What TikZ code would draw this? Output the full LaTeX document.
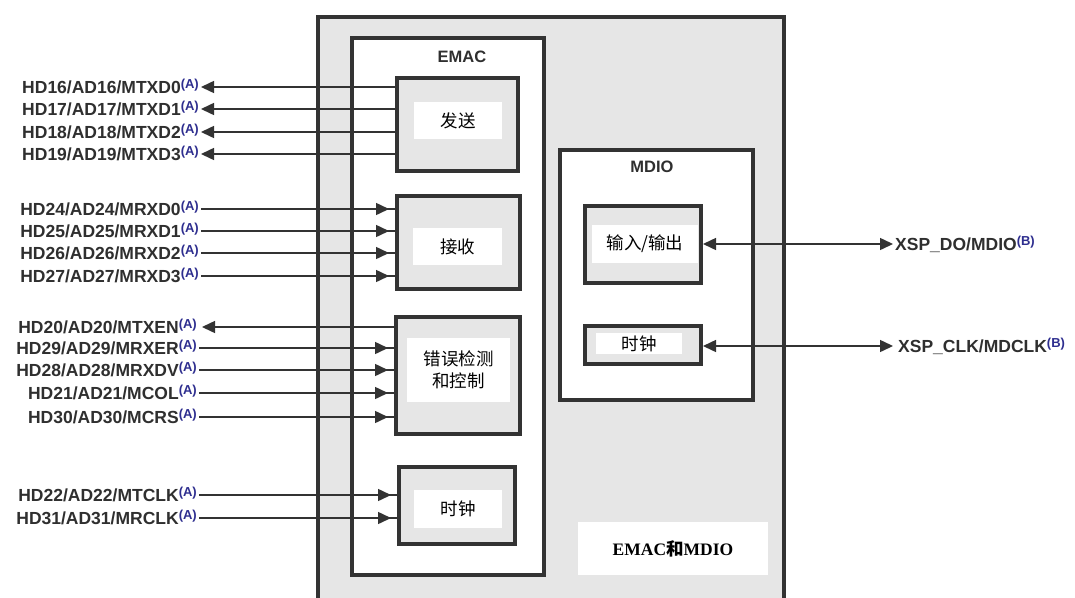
\documentclass[tikz,border=0pt]{standalone}
\usepackage{fontspec}
\setmainfont{Liberation Sans}
\newfontfamily\cjk{Noto Sans CJK SC}
\newfontfamily\tnr{Liberation Serif}
\usetikzlibrary{arrows.meta}
\definecolor{ln}{HTML}{333333}
\definecolor{gr}{HTML}{E6E6E6}
\definecolor{txtc}{HTML}{2F2F2F}
\definecolor{sb}{HTML}{2E2E8F}
\newcommand\mysup[1]{\raisebox{4.5pt}{\fontsize{13}{13}\selectfont\color{sb}(#1)}}
\tikzset{
 frame/.style={draw=ln, line width=4pt, fill=gr, inner sep=0pt},
 wbox/.style={draw=ln, line width=4pt, fill=white, inner sep=0pt},
 lblbox/.style={fill=white, inner sep=0pt, font=\cjk\fontsize{17.5}{22}\selectfont, text=black, align=center},
 sig/.style={font=\bfseries\fontsize{17.5}{17.5}\selectfont, text=txtc, text height=12pt, text depth=0pt, inner sep=2pt},
 wire/.style={draw=ln, line width=1.5pt},
 outw/.style={wire, {Triangle[length=13pt,width=12pt]}-},
 inw/.style={wire, postaction={draw=ln, line width=1.5pt, -{Triangle[length=13pt,width=12pt]}, shorten >=6pt}},
 bidir/.style={wire, {Triangle[length=13pt,width=12pt]}-{Triangle[length=13pt,width=12pt]}},
 boxtitle/.style={font=\bfseries\fontsize{16.5}{17}\selectfont, text=txtc, inner sep=0pt},
}
\begin{document}
\begin{tikzpicture}[x=1pt,y=-1pt]
\useasboundingbox[fill=white] (0,0) rectangle (1075,597);
% outer block
\node[frame, minimum width=466pt, minimum height=620pt, anchor=north] (outer) at (551,15) {};
% EMAC
\node[wbox, minimum width=192pt, minimum height=537pt] (emac) at (448,306.5) {};
\node[boxtitle] (emact) at (462,57) {EMAC};
\node[frame, minimum width=121pt, minimum height=93pt] (txb) at (457.5,124.5) {};
\node[lblbox, minimum width=88pt, minimum height=37pt] (txl) at (458,120.5) {发送};
\node[frame, minimum width=123pt, minimum height=93pt] (rxb) at (458.5,242.5) {};
\node[lblbox, minimum width=89pt, minimum height=37pt] (rxl) at (457.5,246.5) {接收};
\node[frame, minimum width=124pt, minimum height=117pt] (erb) at (458,375.5) {};
\node[lblbox, minimum width=103pt, minimum height=64pt] (erl) at (458.5,370) {错误检测\\和控制};
\node[frame, minimum width=116pt, minimum height=77pt] (ckb) at (457,505.5) {};
\node[lblbox, minimum width=88pt, minimum height=38pt] (ckl) at (458,509) {时钟};
% MDIO
\node[wbox, minimum width=193pt, minimum height=250pt] (mdio) at (656.5,275) {};
\node[boxtitle] (mdiot) at (652,167) {MDIO};
\node[frame, minimum width=116pt, minimum height=77pt] (iob) at (643,244.5) {};
\node[lblbox, minimum width=106pt, minimum height=38pt] (iol) at (645,244) {输入/输出};
\node[frame, minimum width=116pt, minimum height=38pt] (mcb) at (643,345) {};
\node[lblbox, minimum width=86pt, minimum height=21pt] (mcl) at (639,343.5) {时钟};
% title
\node[fill=white, minimum width=190pt, minimum height=53pt, inner sep=0pt] (ttl) at (673,548.5) {\tnr\bfseries\fontsize{17.5}{18}\selectfont EMAC{\cjk 和}MDIO};
% left signal labels
\node[sig, anchor=east] (a0) at (201,87) {HD16/AD16/MTXD0\mysup{A}};
\node[sig, anchor=east] (a1) at (201,109) {HD17/AD17/MTXD1\mysup{A}};
\node[sig, anchor=east] (a2) at (201,132) {HD18/AD18/MTXD2\mysup{A}};
\node[sig, anchor=east] (a3) at (201,154) {HD19/AD19/MTXD3\mysup{A}};
\node[sig, anchor=east] (b0) at (201,209) {HD24/AD24/MRXD0\mysup{A}};
\node[sig, anchor=east] (b1) at (201,231) {HD25/AD25/MRXD1\mysup{A}};
\node[sig, anchor=east] (b2) at (201,253) {HD26/AD26/MRXD2\mysup{A}};
\node[sig, anchor=east] (b3) at (201,276) {HD27/AD27/MRXD3\mysup{A}};
\node[sig, anchor=east] (c0) at (199,327) {HD20/AD20/MTXEN\mysup{A}};
\node[sig, anchor=east] (c1) at (199,348) {HD29/AD29/MRXER\mysup{A}};
\node[sig, anchor=east] (c2) at (199,370) {HD28/AD28/MRXDV\mysup{A}};
\node[sig, anchor=east] (c3) at (199,393) {HD21/AD21/MCOL\mysup{A}};
\node[sig, anchor=east] (c4) at (199,417) {HD30/AD30/MCRS\mysup{A}};
\node[sig, anchor=east] (d0) at (199,495) {HD22/AD22/MTCLK\mysup{A}};
\node[sig, anchor=east] (d1) at (199,518) {HD31/AD31/MRCLK\mysup{A}};
% right signal labels
\node[sig, anchor=west] (r0) at (893,244) {XSP\_DO/MDIO\mysup{B}};
\node[sig, anchor=west] (r1) at (893,346) {\hspace{3pt}XSP\_CLK/MDCLK\mysup{B}};
% connectors
\draw[outw] (a0.east) -- (a0.east -| txb.west);
\draw[outw] (a1.east) -- (a1.east -| txb.west);
\draw[outw] (a2.east) -- (a2.east -| txb.west);
\draw[outw] (a3.east) -- (a3.east -| txb.west);
\draw[inw] (b0.east) -- (b0.east -| rxb.west);
\draw[inw] (b1.east) -- (b1.east -| rxb.west);
\draw[inw] (b2.east) -- (b2.east -| rxb.west);
\draw[inw] (b3.east) -- (b3.east -| rxb.west);
\draw[outw] (c0.east) ++(3,0) -- (c0.east -| erb.west);
\draw[inw] (c1.east) -- (c1.east -| erb.west);
\draw[inw] (c2.east) -- (c2.east -| erb.west);
\draw[inw] (c3.east) -- (c3.east -| erb.west);
\draw[inw] (c4.east) -- (c4.east -| erb.west);
\draw[inw] (d0.east) -- (d0.east -| ckb.west);
\draw[inw] (d1.east) -- (d1.east -| ckb.west);
\draw[bidir] (r0.west -| iob.east) -- (r0.west);
\draw[bidir] (r1.west -| mcb.east) -- (r1.west);
\end{tikzpicture}
\end{document}
